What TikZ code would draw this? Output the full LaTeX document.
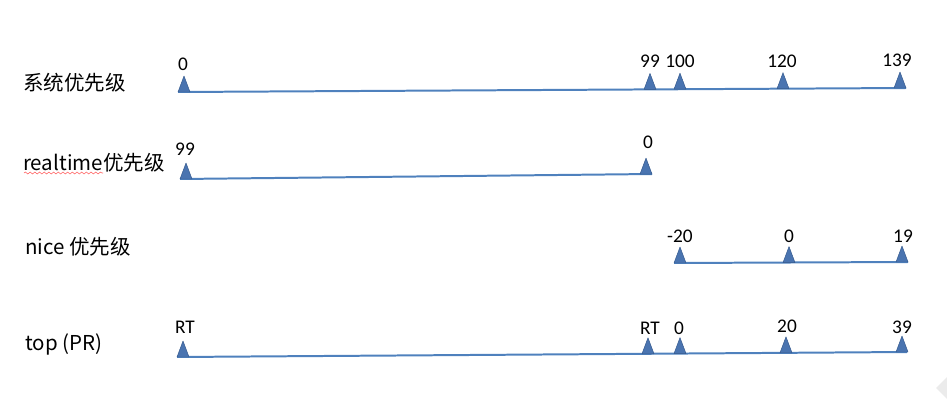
\documentclass[tikz,border=0pt]{standalone}
\usepackage{fontspec}
\setmainfont{Carlito}
\newfontfamily\cjk{Noto Sans CJK SC}
\usetikzlibrary{decorations.pathmorphing}

\definecolor{axisblue}{RGB}{79,129,189}
\definecolor{tickblue}{RGB}{74,116,176}
\definecolor{tickedge}{RGB}{52,88,140}

\begin{document}
\begin{tikzpicture}[x=0.03cm, y=-0.03cm,
	axis/.style={draw=axisblue, line width=1.7pt},
	tick/.style={fill=tickblue, draw=tickedge, line width=0.4pt, line join=round},
	num/.style={font=\fontsize{16.5}{18}\selectfont, anchor=base, inner sep=0pt},
	rowlabel/.style={font=\cjk\fontsize{17.5}{20}\selectfont, anchor=base west, inner sep=0pt}]
	\useasboundingbox (0, 0) rectangle (947, 419);
	% row labels
	\node [rowlabel] (sys) at (23, 90) {系统优先级};
	\node [rowlabel] (rt) at (23, 170) {realtime优先级};
	\node [rowlabel] (nice) at (25, 254) {nice 优先级};
	\node [rowlabel] (top) at (25, 350) {top (PR)};
	\draw [red!60, line width=0.5pt, decorate, decoration={snake, amplitude=0.8, segment length=4}] (24, 173) -- (103, 173);
	% axes
	\coordinate (sysL) at (178, 92);
	\coordinate (sysR) at (906, 88);
	\coordinate (rtL) at (180, 179);
	\coordinate (rtR) at (652, 174);
	\coordinate (niceL) at (674, 263);
	\coordinate (niceR) at (908, 262);
	\coordinate (topL) at (177, 357);
	\coordinate (topR) at (907, 352);
	\draw [axis] (sysL) -- (sysR);
	\draw [axis] (rtL) -- (rtR);
	\draw [axis] (niceL) -- (niceR);
	\draw [axis] (topL) -- (topR);
	% ticks: x / base y / label x / label baseline / text
	\foreach \x/\y/\lx/\ly/\t [count=\i] in {184/92/183/70/0, 650/89.4/650/67/99, 680/89.2/680/67/100, 783/88.7/782/67/120, 900/88/897/66/139} {
		\fill [tick] (\x-6, \y) -- (\x, \y-16) -- (\x+6, \y) -- cycle;
		\node [num] (sys\i) at (\lx, \ly) {\t};
	}
	\foreach \x/\y/\lx/\ly/\t [count=\i] in {186/179/185/155/99, 646/174.1/648/148/0} {
		\fill [tick] (\x-6, \y) -- (\x, \y-16) -- (\x+6, \y) -- cycle;
		\node [num] (rt\i) at (\lx, \ly) {\t};
	}
	\foreach \x/\y/\lx/\ly/\t [count=\i] in {680/263/680/242/-20, 789/262.6/789/242/0, 902/262/903/242/19} {
		\fill [tick] (\x-6, \y) -- (\x, \y-16) -- (\x+6, \y) -- cycle;
		\node [num] (nice\i) at (\lx, \ly) {\t};
	}
	\foreach \x/\y/\lx/\ly/\t [count=\i] in {183/357/185/333/RT, 648/353.8/650/334/RT, 680/353.6/679/334/0, 786/352.8/787/332/20, 902/352/902/333/39} {
		\fill [tick] (\x-6, \y) -- (\x, \y-16) -- (\x+6, \y) -- cycle;
		\node [num] (top\i) at (\lx, \ly) {\t};
	}
	% faint mark at the lower right
	\fill [black!8] (936, 388) -- (947, 377) -- (947, 399) -- cycle;
\end{tikzpicture}
\end{document}
